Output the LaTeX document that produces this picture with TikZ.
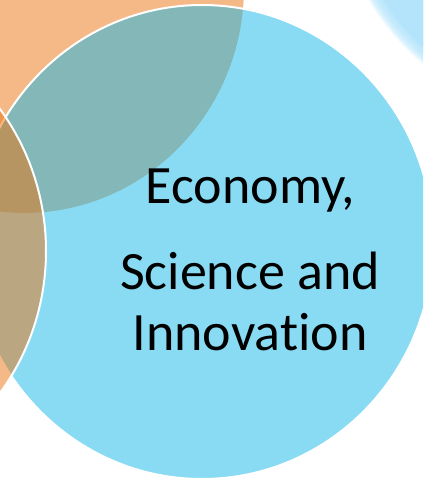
\documentclass[tikz,border=0pt]{standalone}
\usepackage{fontspec}
\setmainfont[Ligatures=NoCommon]{Carlito}
\definecolor{orangeC}{RGB}{235,115,15}
\definecolor{blueC}{RGB}{19,183,233}
\definecolor{glowC}{RGB}{179,228,251}
\tikzset{
  circA/.style={fill=orangeC, fill opacity=0.5},
  circB/.style={fill=blueC, fill opacity=0.5, draw=white, line width=2bp},
  circC/.style={fill=orangeC, fill opacity=0.5, draw=white, line width=2bp},
  glow/.style={fill=glowC, fill opacity=0.13},
  lbl/.style={anchor=base, inner sep=0pt, text=black, font=\fontsize{54bp}{60bp}\selectfont}
}
\begin{document}
\begin{tikzpicture}[x=1bp,y=-1bp]
\useasboundingbox (0,0) rectangle (423,480);
\clip (0,0) rectangle (423,480);
% soft light-blue circle, top right
\fill[glowC] (575,-120) circle [radius=226];
\foreach \i in {1,...,16}{
  \fill[glow] (575,-120) circle [radius={226+0.8*\i}];
}
% three overlapping circles
\path[circA] (24,-13) ellipse [x radius=220, y radius=226];
\path[circB] (202,242) ellipse [x radius=231, y radius=237];
\path[circC] (-185,251) ellipse [x radius=231, y radius=237];
% label
\node[lbl] (l1) at (250.5,203) {Economy,};
\node[lbl] (l2) at (250,289) {Science and};
\node[lbl] (l3) at (250,350) {Innovation};
\end{tikzpicture}
\end{document}
